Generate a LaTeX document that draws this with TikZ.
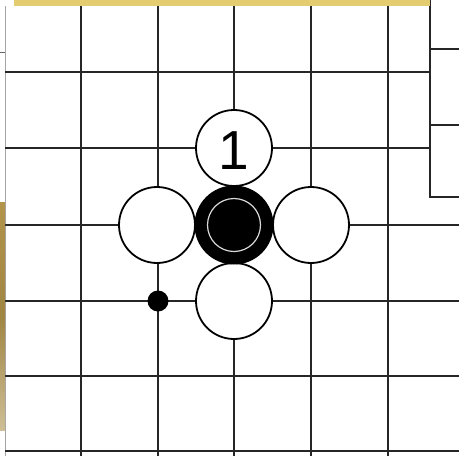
\documentclass[tikz,border=0pt]{standalone}
\usepackage{fontspec}
\setmainfont{Liberation Sans}
\usepackage{tikz}
\usetikzlibrary{positioning}

\definecolor{woodtop}{RGB}{228,204,112}
\definecolor{woodleft}{RGB}{178,148,74}
\definecolor{woodpale}{RGB}{206,190,150}

\begin{document}
\begin{tikzpicture}[x=1pt,y=-1pt]
  \tikzstyle{gridline}=[line width=2.4pt,black!85]
  \tikzstyle{white stone}=[draw,circle,fill=white,line width=1.8pt,minimum size=76pt,inner sep=0pt]
  \tikzstyle{black stone}=[circle,fill=black,minimum size=79pt,inner sep=0pt]
  \useasboundingbox (0,0) rectangle (459,456);
  \fill[white] (0,0) rectangle (459,456);
  % board lines
  \draw[black!35,line width=1pt] (5,6) -- (5,456);
  \foreach \y in {72,148} \draw[gridline] (5,\y) -- (430,\y);
  \foreach \y in {225,301,376,451} \draw[gridline] (5,\y) -- (459,\y);
  \foreach \x in {81,158,234,311,388} \draw[gridline] (\x,0) -- (\x,456);
  % inset corner
  \draw[gridline] (430,0) -- (430,197) -- (459,197);
  \foreach \y in {49,125} \draw[gridline] (430,\y) -- (459,\y);
  \draw[black!60,line width=1pt] (0,52) -- (5,52);
  % wood edges
  \fill[woodtop] (14,0) rectangle (430,6);
  \shade[top color=woodleft,bottom color=woodpale,middle color=woodleft!90!black] (0,202) rectangle (5,430);
  % stones
  \node[white stone] (one) at (234,148) {};
  \node[font=\fontsize{55pt}{55pt}\selectfont] (num) at (234,151) {1};
  \node[white stone] (west) at (157,225) {};
  \node[white stone] (east) at (311,225) {};
  \node[white stone] (south) at (234,301) {};
  \node[black stone] (centre) at (234,225) {};
  \node[circle,draw=white!85!black,line width=1.2pt,minimum size=53pt,inner sep=0pt] (ring) at (centre) {};
  \node[circle,fill=black,minimum size=21pt,inner sep=0pt] (hoshi) at (158,301) {};
\end{tikzpicture}
\end{document}
